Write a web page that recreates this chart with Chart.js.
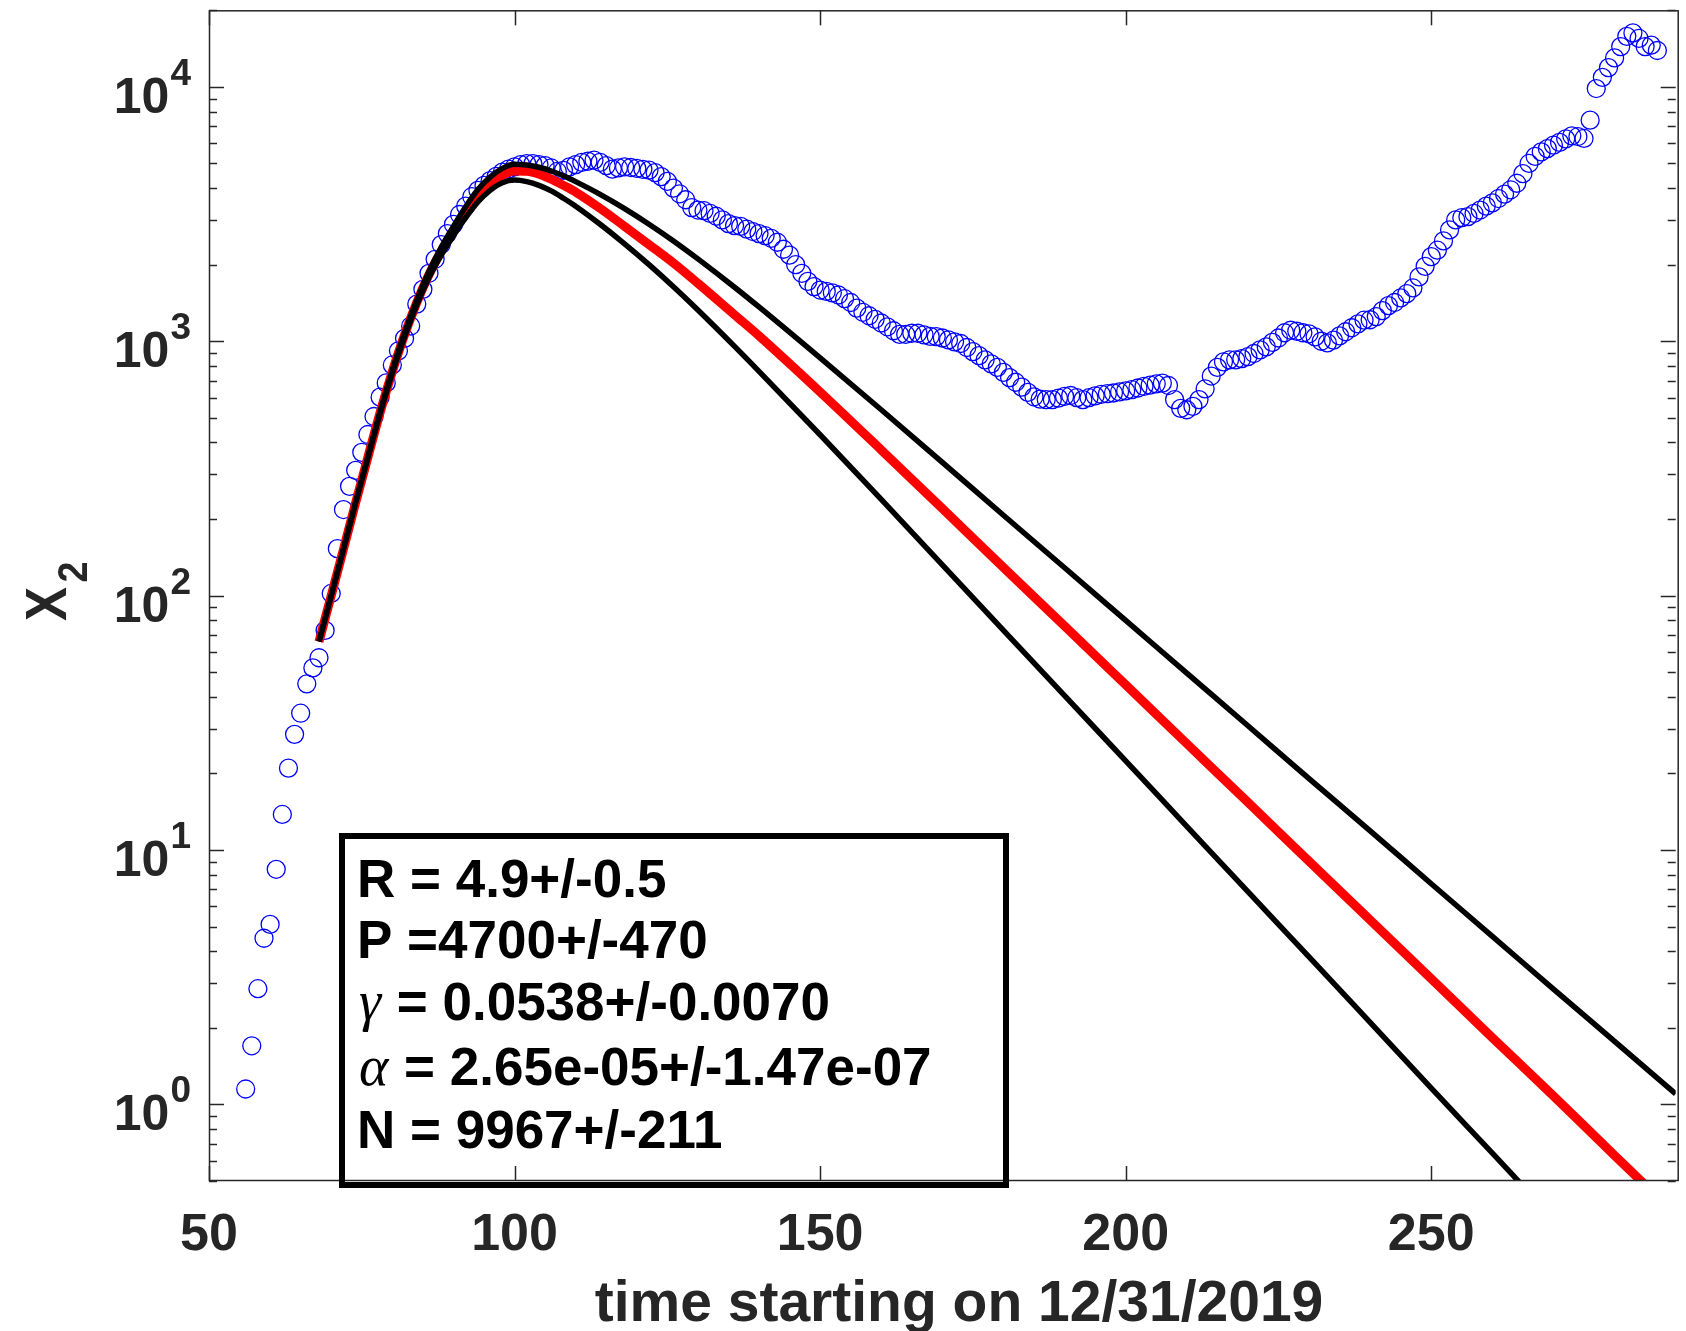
<!DOCTYPE html>
<html lang="en">
<head>
<meta charset="UTF-8">
<title>X2 fit</title>
<script src="https://cdn.jsdelivr.net/npm/chart.js"></script>
<style>
    html, body { margin: 0; padding: 0; background: #fff; }
    #wrap { width: 1686px; height: 1331px; }
</style>
</head>
<body>
<div id="wrap"><canvas id="chart" width="1686" height="1331"></canvas></div>
<script>
// observed X2, one value per day, first one on day 56
const firstDay = 56;
const observed = [
    1.15, 1.7, 2.85, 4.5, 5.1, 8.4, 13.8, 21, 28.5, 34.5,          // 56
    45, 52, 57, 73, 102, 153, 218, 269, 311, 366,                  // 66
    430, 506, 603, 686, 807, 917, 1026, 1148, 1400, 1600,          // 76
    1850, 2100, 2400, 2650, 2880, 3150, 3400, 3700, 3920, 4100,    // 86
    4280, 4450, 4620, 4750, 4850, 4950, 4990, 4990, 4950, 4900,    // 96
    4800, 4650, 4700, 4850, 4950, 5050, 5100, 5150, 5050, 4900,    // 106
    4750, 4800, 4850, 4820, 4780, 4740, 4710, 4600, 4440, 4250,    // 116
    4000, 3800, 3600, 3350, 3280, 3260, 3180, 3100, 3000, 2900,    // 126
    2850, 2830, 2760, 2700, 2650, 2600, 2540, 2450, 2300, 2180,    // 136
    2000, 1850, 1720, 1640, 1590, 1570, 1550, 1520, 1470, 1420,    // 146
    1350, 1300, 1260, 1220, 1180, 1140, 1100, 1065, 1065, 1075,    // 156
    1075, 1060, 1045, 1043, 1030, 1012, 995, 980, 945, 910,        // 166
    878, 845, 815, 790, 755, 720, 690, 660, 630, 605,              // 176
    592, 590, 590, 598, 607, 612, 600, 590, 600, 610,              // 186
    618, 622, 626, 632, 638, 645, 655, 665, 672, 680,              // 196
    685, 670, 590, 545, 538, 555, 590, 650, 730, 790,              // 206
    830, 845, 845, 855, 870, 895, 925, 950, 990, 1030,             // 216
    1080, 1105, 1095, 1080, 1070, 1040, 1000, 985, 1010, 1050,     // 226
    1090, 1130, 1170, 1210, 1215, 1250, 1320, 1380, 1420, 1480,    // 236
    1540, 1620, 1790, 1970, 2150, 2280, 2480, 2740, 3000, 3060,    // 246
    3090, 3180, 3280, 3400, 3500, 3640, 3790, 3940, 4180, 4560,    // 256
    5000, 5330, 5550, 5720, 5900, 6050, 6250, 6420, 6380, 6270,    // 266
    7400, 9850, 10900, 11900, 13000, 14400, 15800, 16300, 15500, 14400, // 276
    14600, 13900                                                   // 286
];

// model curve (red) and its two bounds (black), read at these days
const fitDays = [68, 70, 72, 74, 76, 78, 80, 82, 84, 86, 88, 90, 92, 94, 96, 98, 100, 102, 104, 106, 108, 110,
                 114, 118, 122, 126, 130, 136, 140, 150, 160, 170, 180, 190, 200, 210, 220, 230, 240, 250, 260, 270, 280, 290];
const fitMid = [66, 100, 152, 232, 350, 525, 760, 1060, 1420, 1830, 2260, 2720, 3220, 3780, 4200, 4500, 4670, 4660, 4540, 4340, 4100, 3860,
                3330, 2830, 2400, 2030, 1690, 1270, 1050, 632, 374, 220, 129, 75.9, 44.6, 26.2, 15.4, 9.04, 5.31, 3.12, 1.83, 1.08, 0.63, 0.37];
const fitLow = [66, 100, 152, 232, 348, 520, 750, 1040, 1390, 1780, 2180, 2600, 3060, 3530, 3920, 4200, 4300, 4240, 4100, 3900, 3650, 3396,
                2883, 2415, 2000, 1638, 1327, 955, 762, 429, 239, 132, 73.1, 40.5, 22.4, 12.4, 6.86, 3.8, 2.1, 1.16, 0.643, 0.356, 0.2, 0.11];
const fitHigh = [66, 100, 153, 234, 352, 530, 770, 1080, 1450, 1880, 2340, 2830, 3380, 3950, 4420, 4780, 4960, 4930, 4830, 4670, 4470, 4242,
                 3781, 3323, 2886, 2480, 2108, 1631, 1364, 860, 538, 334, 207, 128.7, 79.9, 49.6, 30.8, 19.1, 11.9, 7.37, 4.58, 2.84, 1.77, 1.1];

const xTicks = [50, 100, 150, 200, 250];
const yExponents = [0, 1, 2, 3, 4];
const xTitle = 'time starting on 12/31/2019';
const paramLines = [
    ['', 'R = 4.9+/-0.5'],
    ['', 'P =4700+/-470'],
    ['\u03b3', ' = 0.0538+/-0.0070'],
    ['\u03b1', ' = 2.65e-05+/-1.47e-07'],
    ['', 'N = 9967+/-211']
];

const axisColor = '#262626';
const sans = '"Liberation Sans", Arial, sans-serif';

function seg(ctx, x1, y1, x2, y2) {
    ctx.beginPath();
    ctx.moveTo(x1, y1);
    ctx.lineTo(x2, y2);
    ctx.stroke();
}

// MATLAB-like box with inward ticks, labels and the parameter text box
const matlabAxes = {
    id: 'matlabAxes',
    afterDraw(chart) {
        const ctx = chart.ctx;
        const a = chart.chartArea;
        const xs = chart.scales.x;
        const ys = chart.scales.y;
        ctx.save();
        ctx.strokeStyle = axisColor;
        ctx.lineWidth = 1.5;
        // right edge of the box falls just outside the picture
        ctx.strokeRect(a.left + 0.5, a.top + 0.5, a.right - a.left + 2, a.bottom - a.top - 1);

        xTicks.forEach(v => {
            const px = Math.round(xs.getPixelForValue(v)) + 0.5;
            seg(ctx, px, a.bottom, px, a.bottom - 15);
            seg(ctx, px, a.top, px, a.top + 15);
        });

        for (let d = -1; d <= 4; d++) {
            for (let m = 1; m <= 9; m++) {
                const v = m * Math.pow(10, d);
                if (v < ys.min || v > ys.max) continue;
                const py = Math.round(ys.getPixelForValue(v)) + 0.5;
                const len = m === 1 ? 15 : 8;
                seg(ctx, a.left, py, a.left + len, py);
                seg(ctx, a.right, py, a.right - len, py);
            }
        }

        // tick labels
        ctx.fillStyle = axisColor;
        ctx.font = 'bold 52px ' + sans;
        ctx.textAlign = 'center';
        ctx.textBaseline = 'alphabetic';
        xTicks.forEach(v => {
            ctx.fillText(String(v), xs.getPixelForValue(v), 1250);
        });

        yExponents.forEach(e => {
            const py = ys.getPixelForValue(Math.pow(10, e));
            ctx.font = 'bold 37px ' + sans;
            ctx.textAlign = 'right';
            ctx.fillText(String(e), 191, py - 2);
            const w = ctx.measureText(String(e)).width;
            ctx.font = 'bold 50px ' + sans;
            ctx.fillText('10', 191 - w - 1, py + 26);
        });

        // axis titles
        ctx.font = 'bold 57px ' + sans;
        ctx.textAlign = 'center';
        ctx.fillText(xTitle, 959, 1321);

        ctx.save();
        ctx.translate(66, 621);
        ctx.rotate(-Math.PI / 2);
        ctx.scale(0.88, 1);
        ctx.textAlign = 'left';
        ctx.font = 'bold 58px ' + sans;
        ctx.fillText('X', 0, 0);
        const xw = ctx.measureText('X').width;
        ctx.font = 'bold 43px ' + sans;
        ctx.fillText('2', xw + 5, 21);
        ctx.restore();

        // parameter box
        ctx.strokeStyle = '#000';
        ctx.lineWidth = 6;
        ctx.strokeRect(342, 836, 664, 349);
        ctx.fillStyle = '#000';
        ctx.textAlign = 'left';
        const baselines = [897, 958, 1020, 1085, 1148];
        paramLines.forEach((ln, i) => {
            let x = 357;
            if (ln[0]) {
                ctx.font = 'italic 56px "Liberation Serif", "DejaVu Serif", serif';
                ctx.fillText(ln[0], x + 2, baselines[i]);
                x += ctx.measureText(ln[0]).width + 3;
            }
            ctx.font = 'bold 53px ' + sans;
            ctx.fillText(ln[1], x, baselines[i]);
        });
        ctx.restore();
    }
};

const lineStyle = {
    showLine: true,
    pointRadius: 0,
    fill: false,
    cubicInterpolationMode: 'monotone'
};

new Chart(document.getElementById('chart'), {
    type: 'scatter',
    data: {
        datasets: [
            Object.assign({
                label: 'upper bound',
                data: fitDays.map((d, i) => ({ x: d, y: fitHigh[i] })),
                borderColor: '#000000',
                borderWidth: 5.5,
                order: 1
            }, lineStyle),
            Object.assign({
                label: 'lower bound',
                data: fitDays.map((d, i) => ({ x: d, y: fitLow[i] })),
                borderColor: '#000000',
                borderWidth: 5.5,
                order: 1
            }, lineStyle),
            Object.assign({
                label: 'fit',
                data: fitDays.map((d, i) => ({ x: d, y: fitMid[i] })),
                borderColor: '#ff0000',
                borderWidth: 9,
                order: 2
            }, lineStyle),
            {
                label: 'data',
                data: observed.map((v, i) => ({ x: firstDay + i, y: v })),
                showLine: false,
                pointStyle: 'circle',
                pointRadius: 9,
                pointBorderWidth: 1.3,
                pointBorderColor: '#0000ff',
                pointBackgroundColor: 'rgba(0,0,0,0)',
                order: 3
            }
        ]
    },
    options: {
        responsive: false,
        animation: false,
        devicePixelRatio: 1,
        layout: { padding: { top: 7, right: 0, left: 0, bottom: 0 } },
        plugins: { legend: { display: false }, tooltip: { enabled: false } },
        scales: {
            x: {
                type: 'linear',
                min: 50,
                max: 290,
                grid: { display: false },
                border: { display: false },
                ticks: { display: false },
                afterFit(scale) { scale.height = 150; }
            },
            y: {
                type: 'logarithmic',
                min: 0.5,
                max: 20000,
                grid: { display: false },
                border: { display: false },
                ticks: { display: false },
                afterFit(scale) { scale.width = 209; }
            }
        }
    },
    plugins: [matlabAxes]
});
</script>
</body>
</html>
